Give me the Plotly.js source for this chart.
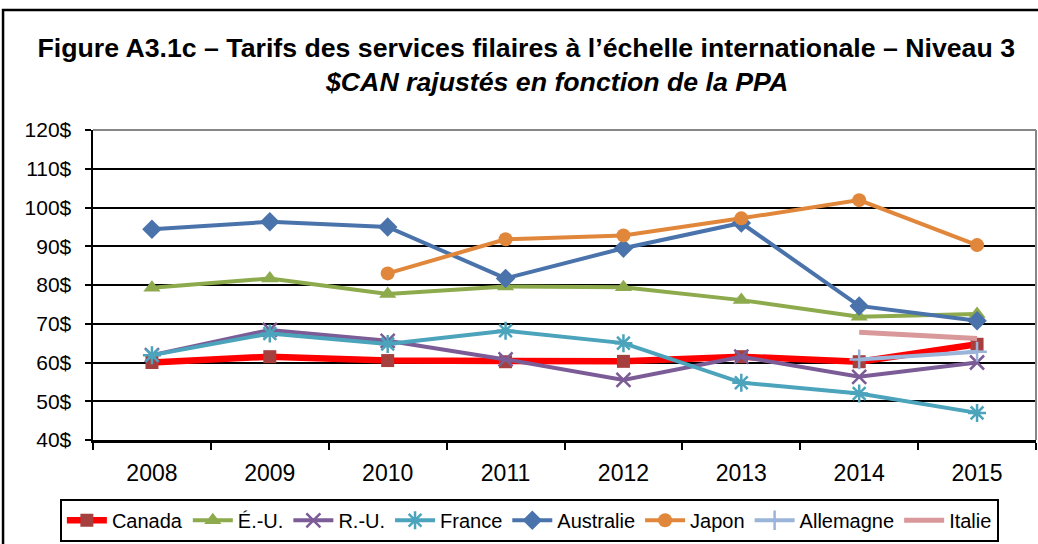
<!DOCTYPE html>
<html>
<head>
<meta charset="utf-8">
<script src="https://cdn.plot.ly/plotly-3.0.1.min.js"></script>
<style>
  html, body { margin: 0; padding: 0; background: #ffffff; }
  #chart { width: 1038px; height: 544px; }
</style>
</head>
<body>
<div id="chart"></div>
<script>
const years = ['2008', '2009', '2010', '2011', '2012', '2013', '2014', '2015'];

const canada     = [60.0, 61.5, 60.5, 60.2, 60.3, 61.5, 60.2, 64.7];
const eu         = [79.3, 81.7, 77.7, 79.6, 79.4, 76.1, 71.8, 72.5];
const ru         = [61.9, 68.4, 65.6, 60.8, 55.5, 61.5, 56.3, 60.0];
const france     = [61.9, 67.5, 64.8, 68.2, 65.0, 54.8, 52.0, 47.0];
const australie  = [94.4, 96.3, 95.0, 81.7, 89.5, 96.0, 74.6, 70.8];
const japon      = [null, null, 83.0, 91.8, 92.8, 97.2, 101.9, 90.3];
const allemagne  = [null, null, null, null, null, null, 60.8, 62.8];
const italie     = [null, null, null, null, null, null, 67.8, 66.2];

const yTicks = [40, 50, 60, 70, 80, 90, 100, 110, 120];
const yTickLabels = ['40$', '50$', '60$', '70$', '80$', '90$', '100$', '110$', '120$'];

const seriesNames = ['Canada', 'É.-U.', 'R.-U.', 'France', 'Australie', 'Japon', 'Allemagne', 'Italie'];

const titleText = 'Figure A3.1c – Tarifs des services filaires à l’échelle internationale – Niveau 3';
const subtitleText = '$CAN rajustés en fonction de la PPA';

const FONT = 'Liberation Sans, Arial, sans-serif';

function tr(name, y, lineColor, lineWidth, symbol, markerColor, size, mlw) {
  const t = {
    type: 'scatter',
    mode: symbol ? 'lines+markers' : 'lines',
    name: name,
    x: years,
    y: y,
    connectgaps: false,
    line: { color: lineColor, width: lineWidth },
    hoverinfo: 'skip'
  };
  if (symbol) {
    t.marker = { symbol: symbol, color: markerColor, size: size,
                 line: { color: markerColor, width: mlw || 0 } };
  }
  return t;
}

const data = [
  tr(seriesNames[0], canada,    '#FF0000', 6.5, 'square',          '#A5403E', 13, 0),
  tr(seriesNames[1], eu,        '#8DAA4C', 4, 'triangle-up',     '#8DAA4C', 15, 0),
  tr(seriesNames[2], ru,        '#7B5C96', 4, 'x-thin-open',     '#7B5C96', 14, 2.5),
  tr(seriesNames[3], france,    '#4BA3BC', 4, 'asterisk-open',   '#4BA3BC', 15, 2.5),
  tr(seriesNames[4], australie, '#4A73AB', 4, 'diamond',         '#4A73AB', 15, 0),
  tr(seriesNames[5], japon,     '#E0873B', 4, 'circle',          '#E0873B', 14, 0),
  tr(seriesNames[6], allemagne, '#9AB4DA', 4, 'cross-thin-open', '#9AB4DA', 14, 2.5),
  tr(seriesNames[7], italie,    '#D9999A', 5, null)
];

const layout = {
  width: 1038,
  height: 544,
  margin: { l: 93, r: 2, t: 130, b: 104, pad: 0 },
  paper_bgcolor: '#ffffff',
  plot_bgcolor: '#ffffff',
  font: { family: FONT, color: '#000000' },
  showlegend: true,
  title: {
    text: '<b>' + titleText + '</b>',
    font: { family: FONT, size: 26.7, color: '#000000' },
    xref: 'container', x: 0.507, xanchor: 'center',
    yref: 'container', y: 0.912, yanchor: 'middle'
  },
  annotations: [
    { text: '<b><i>' + subtitleText + '</i></b>', showarrow: false,
      xref: 'paper', yref: 'paper', x: 0.491, y: 1.155,
      xanchor: 'center', yanchor: 'middle',
      font: { family: FONT, size: 26.7, color: '#000000' } }
  ],
  xaxis: {
    type: 'category',
    categoryorder: 'array',
    categoryarray: years,
    range: [-0.5, 7.5],
    tickson: 'boundaries',
    ticks: 'outside',
    ticklen: 7,
    tickwidth: 2,
    tickcolor: '#000000',
    showline: true,
    linecolor: '#000000',
    linewidth: 2.5,
    showgrid: false,
    zeroline: false,
    tickfont: { family: FONT, size: 23, color: '#000000' },
    ticklabelstandoff: 11,
    fixedrange: true
  },
  yaxis: {
    range: [40, 120],
    tickvals: yTicks,
    ticktext: yTickLabels,
    ticks: 'outside',
    ticklen: 6,
    tickwidth: 2,
    tickcolor: '#000000',
    showline: true,
    linecolor: '#000000',
    linewidth: 2.5,
    showgrid: true,
    gridcolor: '#000000',
    gridwidth: 2,
    zeroline: false,
    tickfont: { family: FONT, size: 21, color: '#000000' },
    ticklabelstandoff: 9,
    fixedrange: true
  },
  legend: {
    orientation: 'h',
    xref: 'container', x: 0.51, xanchor: 'center',
    yref: 'container', y: 0.004, yanchor: 'bottom',
    bordercolor: '#000000',
    borderwidth: 2,
    bgcolor: '#ffffff',
    itemwidth: 40,
    font: { family: FONT, size: 20, color: '#000000' },
    traceorder: 'normal'
  },
  shapes: [
    { type: 'line', xref: 'paper', yref: 'paper', x0: 0, x1: 1, y0: 1, y1: 1,
      line: { color: '#868686', width: 2 }, layer: 'above' },
    { type: 'line', xref: 'paper', yref: 'paper', x0: 1, x1: 1, y0: 0, y1: 1,
      line: { color: '#868686', width: 2 }, layer: 'above' },
    { type: 'rect', xref: 'paper', yref: 'paper',
      x0: -0.0954, x1: 1.02, y0: -0.36, y1: 1.3871,
      line: { color: '#000000', width: 2.5 }, fillcolor: 'rgba(0,0,0,0)', layer: 'above' }
  ]
};

Plotly.newPlot('chart', data, layout, { staticPlot: true, displayModeBar: false });
</script>
</body>
</html>
